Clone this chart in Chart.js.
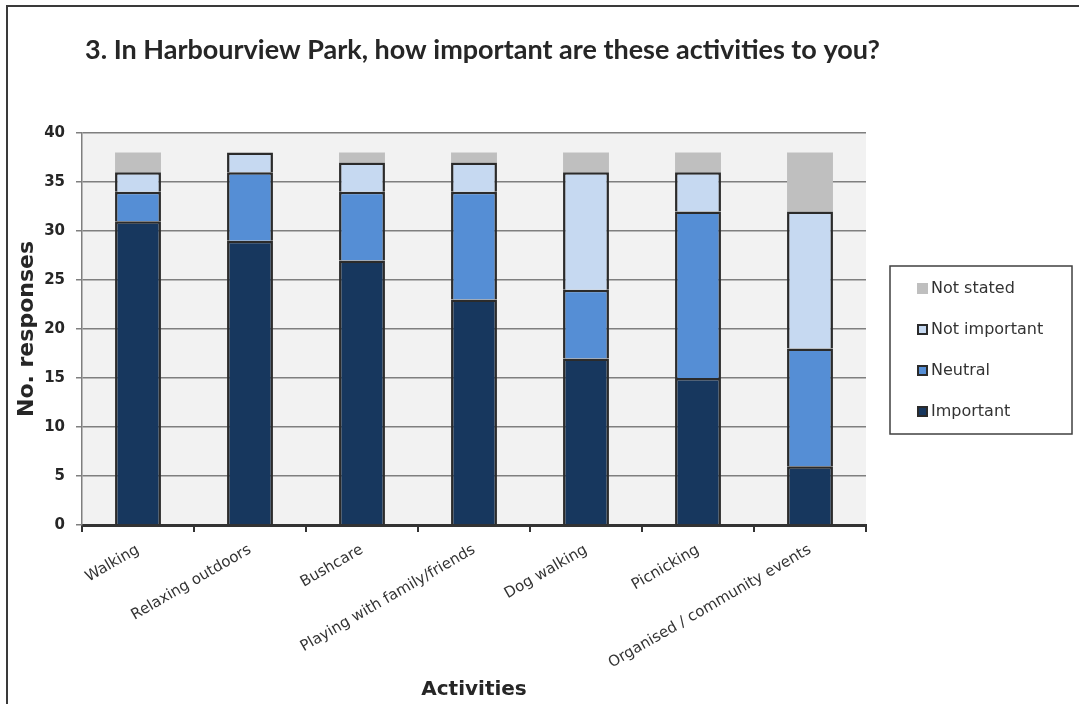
<!DOCTYPE html>
<html>
<head>
    <title>Harbourview Park activities</title>
    <script src="https://cdn.jsdelivr.net/npm/chart.js"></script>
    <style>
        html, body { margin: 0; padding: 0; background: #fff; }
        #wrap { width: 1079px; height: 704px; }
    </style>
</head>
<body>
    <div id="wrap"><canvas id="activityChart" width="1079" height="704"></canvas></div>

    <script>
        // question + axis text
        const chartTitle = '3. In Harbourview Park, how important are these activities to you?';
        const xTitle = 'Activities';
        const yTitle = 'No. responses';

        const activities = ['Walking', 'Relaxing outdoors', 'Bushcare', 'Playing with family/friends',
            'Dog walking', 'Picnicking', 'Organised / community events'];

        // responses per answer, stacked bottom to top
        const important    = [31, 29, 27, 23, 17, 15, 6];
        const neutral      = [3, 7, 7, 11, 7, 17, 12];
        const notImportant = [2, 2, 3, 3, 12, 4, 14];
        const notStated    = [2, 0, 1, 1, 2, 2, 6];

        const yTicks = [0, 5, 10, 15, 20, 25, 30, 35, 40];

        const FONT = '"DejaVu Sans", Arial, sans-serif';

        // grey plot background + outer frame
        const backgroundPlugin = {
            id: 'plotBg',
            beforeDraw(chart) {
                const { ctx, chartArea } = chart;
                ctx.save();
                ctx.fillStyle = '#ffffff';
                ctx.fillRect(0, 0, chart.width, chart.height);
                ctx.fillStyle = '#f2f2f2';
                ctx.fillRect(chartArea.left, chartArea.top,
                    chartArea.right - chartArea.left, chartArea.bottom - chartArea.top);
                ctx.strokeStyle = '#3a3a3a';
                ctx.lineWidth = 2;
                ctx.strokeRect(7, 6, chart.width + 20, chart.height + 20);
                ctx.restore();
            }
        };

        // title and boxed legend on the right
        const decorPlugin = {
            id: 'decor',
            afterDraw(chart) {
                const ctx = chart.ctx;
                ctx.save();
                ctx.fillStyle = '#262626';
                ctx.font = 'bold 27px Lato, sans-serif';
                ctx.textAlign = 'left';
                ctx.textBaseline = 'alphabetic';
                ctx.fillText(chartTitle, 85, 59);

                ctx.strokeStyle = '#404040';
                ctx.lineWidth = 1.5;
                ctx.strokeRect(890, 266, 182, 168);

                const sets = chart.data.datasets.slice().reverse();
                const rows = [288, 329, 370, 411];
                ctx.font = '16px ' + FONT;
                ctx.textBaseline = 'middle';
                sets.forEach((ds, i) => {
                    const y = rows[i];
                    ctx.fillStyle = ds.backgroundColor;
                    ctx.fillRect(917, y - 5, 11, 11);
                    if (ds.borderWidth) {
                        ctx.strokeStyle = '#2b2b2b';
                        ctx.lineWidth = 2;
                        ctx.strokeRect(918, y - 4, 9, 9);
                    }
                    ctx.fillStyle = '#333333';
                    ctx.fillText(ds.label, 931, y + 1);
                });
                ctx.restore();
            }
        };

        function makeSet(label, data, color, border) {
            return {
                label: label,
                data: data,
                backgroundColor: color,
                borderColor: '#2b2b2b',
                borderWidth: border,
                barPercentage: 0.41,
                categoryPercentage: 1.0
            };
        }

        new Chart(document.getElementById('activityChart'), {
            type: 'bar',
            data: {
                labels: activities,
                datasets: [
                    makeSet('Important', important, '#17375e', 2.5),
                    makeSet('Neutral', neutral, '#558ed5', 2.5),
                    makeSet('Not important', notImportant, '#c6d9f1', 2.5),
                    makeSet('Not stated', notStated, '#bfbfbf', 0)
                ]
            },
            options: {
                responsive: false,
                animation: false,
                layout: { padding: { top: 133, right: 213, left: 0, bottom: 0 } },
                plugins: {
                    legend: { display: false },
                    title: { display: false },
                    tooltip: { enabled: false }
                },
                scales: {
                    x: {
                        stacked: true,
                        afterFit(scale) { scale.height = 179; },
                        grid: {
                            offset: true,
                            drawOnChartArea: false,
                            drawTicks: true,
                            tickLength: 7,
                            color: '#333333',
                            lineWidth: 2
                        },
                        border: { color: '#333333', width: 3 },
                        ticks: {
                            minRotation: 30,
                            maxRotation: 30,
                            padding: 9,
                            color: '#333333',
                            font: { family: FONT, size: 15 }
                        },
                        title: {
                            display: true,
                            text: xTitle,
                            color: '#262626',
                            font: { family: FONT, size: 20, weight: 'bold' },
                            padding: { top: 0, bottom: 2 }
                        }
                    },
                    y: {
                        stacked: true,
                        min: 0,
                        max: 40,
                        afterFit(scale) { scale.width = 82; },
                        afterBuildTicks(scale) { scale.ticks = yTicks.map(v => ({ value: v })); },
                        grid: {
                            color: '#7f7f7f',
                            lineWidth: 1.5,
                            tickLength: 6
                        },
                        border: { color: '#7f7f7f', width: 1.5 },
                        ticks: {
                            padding: 11,
                            color: '#262626',
                            font: { family: FONT, size: 15, weight: 'bold' }
                        },
                        title: {
                            display: true,
                            text: yTitle,
                            color: '#262626',
                            font: { family: FONT, size: 22, weight: 'bold' },
                            padding: { top: 14, bottom: 0 }
                        }
                    }
                }
            },
            plugins: [backgroundPlugin, decorPlugin]
        });
    </script>
</body>
</html>
